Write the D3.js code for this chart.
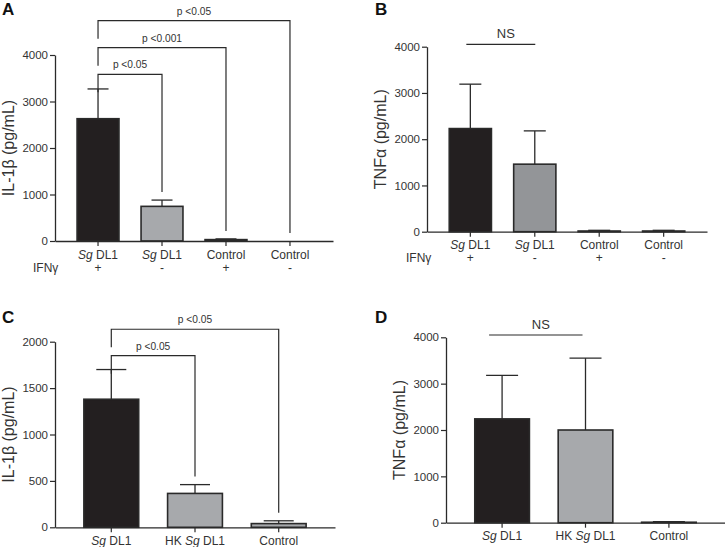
<!DOCTYPE html>
<html>
<head>
<meta charset="utf-8">
<script src="https://cdn.jsdelivr.net/npm/d3@7"></script>
<style>
  html, body { margin: 0; padding: 0; background: #fff; }
  svg { display: block; font-family: "Liberation Sans", Arial, sans-serif; }
</style>
</head>
<body>
<svg id="chart" width="725" height="547"></svg>
<script>
// ---------- DATA ----------
const aCategories = ["Sg DL1", "Sg DL1", "Control", "Control"];
const aIfn = ["+", "-", "+", "-"];
const aMeans = [2630, 745, 30, 0];
const aErrTops = [3270, 880, 45, 0];
const aTicks = [0, 1000, 2000, 3000, 4000];
const aBrackets = [
  { from: 0, to: 1, level: 3585, label: "p <0.05" },
  { from: 0, to: 2, level: 4157, label: "p <0.001" },
  { from: 0, to: 3, level: 4738, label: "p <0.05" }
];

const bCategories = ["Sg DL1", "Sg DL1", "Control", "Control"];
const bIfn = ["+", "-", "+", "-"];
const bMeans = [2230, 1460, 15, 15];
const bErrTops = [3190, 2180, 30, 30];
const bTicks = [0, 1000, 2000, 3000, 4000];
const bNS = { from: 0, to: 1, level: 4052, label: "NS" };

const cCategories = ["Sg DL1", "HK Sg DL1", "Control"];
const cMeans = [1380, 365, 40];
const cErrTops = [1700, 460, 70];
const cTicks = [0, 500, 1000, 1500, 2000];
const cBrackets = [
  { from: 0, to: 1, level: 1849, label: "p <0.05" },
  { from: 0, to: 2, level: 2134, label: "p <0.05" }
];

const dCategories = ["Sg DL1", "HK Sg DL1", "Control"];
const dMeans = [2240, 2000, 10];
const dErrTops = [3180, 3550, 25];
const dTicks = [0, 1000, 2000, 3000, 4000];
const dNS = { from: 0, to: 1, level: 4050, label: "NS" };

// ---------- LAYOUT / STYLE ----------
const svg = d3.select("#chart");
const INK = "#2a2a2a";
const TXT = "#333";

function drawPanel(p) {
  const g = svg.append("g");
  const x = d3.scaleBand().domain(d3.range(p.cats.length)).range([p.x0, p.x1]).padding(0.345);
  const y = d3.scaleLinear().domain([0, p.ymax]).range([p.yBot, p.yTop]);
  const cx = i => x(i) + x.bandwidth() / 2;

  // panel letter
  g.append("text").attr("x", p.letterX).attr("y", p.letterY)
    .attr("font-size", 17).attr("font-weight", "bold").attr("fill", "#111").text(p.letter);

  // y axis
  const ya = g.append("g").attr("transform", `translate(${p.x0},0)`)
    .call(d3.axisLeft(y).tickValues(p.ticks).tickSize(5).tickSizeOuter(0).tickPadding(2).tickFormat(d3.format("d")));
  ya.select(".domain").attr("stroke", INK).attr("stroke-width", 1.3);
  ya.selectAll(".tick line").attr("stroke", INK).attr("stroke-width", 1.2);
  ya.selectAll(".tick text").attr("font-size", 11.5).attr("fill", TXT)
    .attr("font-family", "'Liberation Sans', Arial, sans-serif");

  // y label
  g.append("text")
    .attr("transform", `translate(${p.x0 - 41},${(p.yTop + p.yBot) / 2}) rotate(-90)`)
    .attr("text-anchor", "middle").attr("font-size", 16).attr("fill", TXT)
    .text(p.ylabel);

  // error bars
  const eb = g.append("g");
  p.means.forEach((m, i) => {
    if (p.errTops[i] <= 0) return;
    const hw = p.capHalf;
    eb.append("line").attr("x1", cx(i)).attr("x2", cx(i))
      .attr("y1", y(m)).attr("y2", y(p.errTops[i])).attr("stroke", INK).attr("stroke-width", 1.3);
    eb.append("line").attr("x1", cx(i) - hw).attr("x2", cx(i) + hw)
      .attr("y1", y(p.errTops[i])).attr("y2", y(p.errTops[i])).attr("stroke", INK).attr("stroke-width", 1.3);
  });

  // bars
  g.append("g").selectAll("rect")
    .data(p.means.map((m, i) => ({ m, i })).filter(d => d.m > 0))
    .join("rect")
    .attr("x", d => x(d.i)).attr("width", x.bandwidth())
    .attr("y", d => y(d.m)).attr("height", d => y(0) - y(d.m))
    .attr("fill", d => p.colors[d.i]).attr("stroke", INK).attr("stroke-width", 1.6);

  // x axis
  const xa = g.append("g").attr("transform", `translate(0,${p.yBot})`)
    .call(d3.axisBottom(x).tickSize(5).tickSizeOuter(0).tickFormat(""));
  xa.select(".domain").attr("stroke", INK).attr("stroke-width", 1.3);
  xa.selectAll(".tick line").attr("stroke", INK).attr("stroke-width", 1.2);

  // x labels with italic "Sg"
  p.cats.forEach((c, i) => {
    const t = g.append("text").attr("x", cx(i)).attr("y", p.yBot + 17.5)
      .attr("text-anchor", "middle").attr("font-size", 12).attr("fill", TXT);
    const parts = c.split(/(Sg)/).filter(s => s.length);
    parts.forEach(s => {
      t.append("tspan").attr("font-style", s === "Sg" ? "italic" : "normal").text(s);
    });
  });

  if (p.ifn) {
    g.append("text").attr("x", p.ifnX).attr("y", p.yBot + 30.5)
      .attr("font-size", 12).attr("fill", TXT).text("IFNγ");
    p.ifn.forEach((s, i) => {
      g.append("text").attr("x", cx(i)).attr("y", p.yBot + 30.5)
        .attr("text-anchor", "middle").attr("font-size", 12).attr("fill", TXT).text(s);
    });
  }

  // significance brackets
  (p.brackets || []).forEach(b => {
    const yl = y(b.level);
    const yEnd = y(p.errTops[b.to]) - 8;
    g.append("path")
      .attr("d", `M${cx(b.from)},${yl + 18}V${yl}H${cx(b.to)}V${yEnd}`)
      .attr("fill", "none").attr("stroke", INK).attr("stroke-width", 1.2);
    g.append("text").attr("x", (cx(b.from) + cx(b.to)) / 2).attr("y", yl - 6)
      .attr("text-anchor", "middle").attr("font-size", 10.2).attr("fill", TXT).text(b.label);
  });

  if (p.ns) {
    const yl = y(p.ns.level);
    const xs = cx(p.ns.from) + p.nsOff[0], xe = cx(p.ns.to) + p.nsOff[1];
    g.append("line").attr("x1", xs).attr("x2", xe).attr("y1", yl).attr("y2", yl)
      .attr("stroke", INK).attr("stroke-width", 1.2);
    g.append("text").attr("x", (xs + xe) / 2 + 5).attr("y", yl - 6)
      .attr("text-anchor", "middle").attr("font-size", 13).attr("fill", TXT).text(p.ns.label);
  }
}

drawPanel({
  letter: "A", letterX: 2, letterY: 15,
  x0: 55, x1: 333, yTop: 55, yBot: 241, ymax: 4000, ticks: aTicks,
  cats: aCategories, ifn: aIfn, ifnX: 33, means: aMeans, errTops: aErrTops,
  colors: ["#231f20", "#a7a9ac", "#ffffff", "#ffffff"], capHalf: 10.5,
  ylabel: "IL-1β (pg/mL)", brackets: aBrackets
});

drawPanel({
  letter: "B", letterX: 375, letterY: 15,
  x0: 427, x1: 707, yTop: 46.7, yBot: 231.7, ymax: 4000, ticks: bTicks,
  cats: bCategories, ifn: bIfn, ifnX: 406, means: bMeans, errTops: bErrTops,
  colors: ["#231f20", "#939598", "#ffffff", "#ffffff"], capHalf: 11,
  ylabel: "TNFα (pg/mL)", ns: bNS, nsOff: [-4, 0.5]
});

drawPanel({
  letter: "C", letterX: 2, letterY: 323,
  x0: 55, x1: 335, yTop: 341.7, yBot: 527.3, ymax: 2000, ticks: cTicks,
  cats: cCategories, means: cMeans, errTops: cErrTops,
  colors: ["#231f20", "#a7a9ac", "#a7a9ac"], capHalf: 15,
  ylabel: "IL-1β (pg/mL)", brackets: cBrackets
});

drawPanel({
  letter: "D", letterX: 375, letterY: 323,
  x0: 446, x1: 725, yTop: 337.3, yBot: 522.7, ymax: 4000, ticks: dTicks,
  cats: dCategories, means: dMeans, errTops: dErrTops,
  colors: ["#231f20", "#a7a9ac", "#a7a9ac"], capHalf: 16,
  ylabel: "TNFα (pg/mL)", ns: dNS, nsOff: [-13, -3]
});
</script>
</body>
</html>
